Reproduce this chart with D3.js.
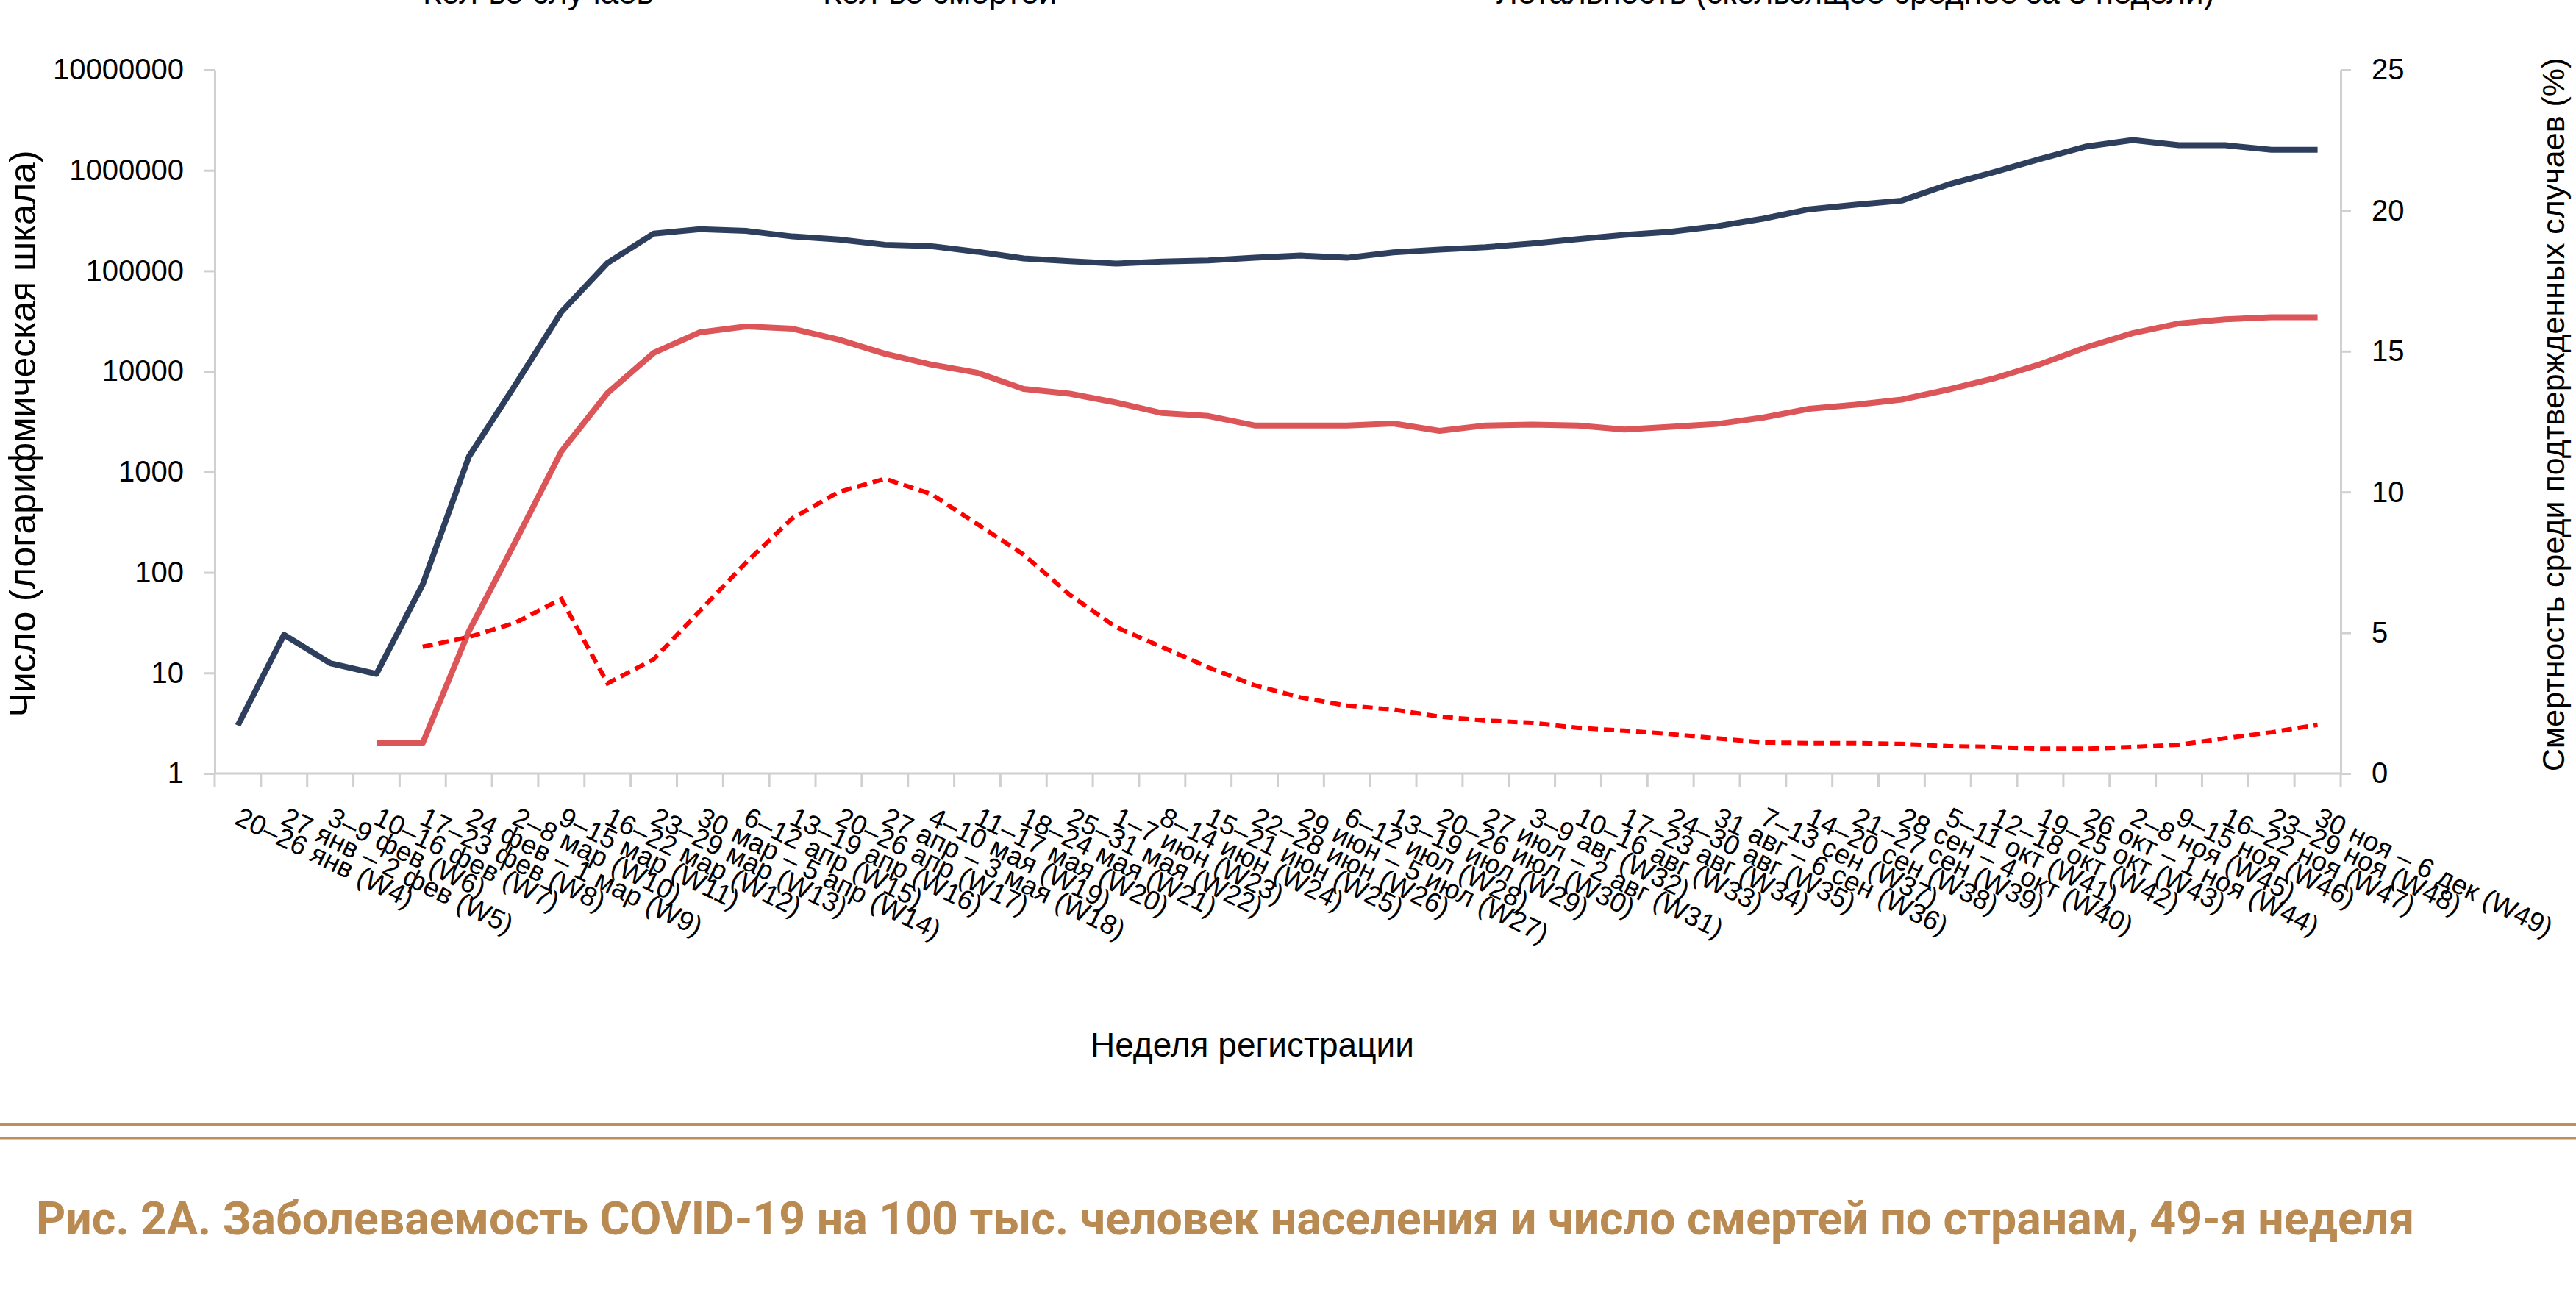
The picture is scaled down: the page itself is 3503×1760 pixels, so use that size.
<!DOCTYPE html>
<html>
<head>
<meta charset="utf-8">
<script src="https://cdn.jsdelivr.net/npm/d3@7"></script>
<style>
body { margin: 0; background: #fff; }
svg text { font-family: "Liberation Sans", Arial, sans-serif; fill: #000; }
</style>
</head>
<body>
<svg width="3503" height="1760"></svg>
<script>
// weeks on the x axis
var weeks = ["W4","W5","W6","W7","W8","W9","W10","W11","W12","W13","W14","W15","W16","W17","W18","W19","W20","W21","W22","W23","W24","W25","W26","W27","W28","W29","W30","W31","W32","W33","W34","W35","W36","W37","W38","W39","W40","W41","W42","W43","W44","W45","W46","W47","W48","W49"];

var weekLabels = ["20–26 янв (W4)","27 янв – 2 фев (W5)","3–9 фев (W6)","10–16 фев (W7)","17–23 фев (W8)","24 фев – 1 мар (W9)","2–8 мар (W10)","9–15 мар (W11)","16–22 мар (W12)","23–29 мар (W13)","30 мар – 5 апр (W14)","6–12 апр (W15)","13–19 апр (W16)","20–26 апр (W17)","27 апр – 3 мая (W18)","4–10 мая (W19)","11–17 мая (W20)","18–24 мая (W21)","25–31 мая (W22)","1–7 июн (W23)","8–14 июн (W24)","15–21 июн (W25)","22–28 июн (W26)","29 июн – 5 июл (W27)","6–12 июл (W28)","13–19 июл (W29)","20–26 июл (W30)","27 июл – 2 авг (W31)","3–9 авг (W32)","10–16 авг (W33)","17–23 авг (W34)","24–30 авг (W35)","31 авг – 6 сен (W36)","7–13 сен (W37)","14–20 сен (W38)","21–27 сен (W39)","28 сен – 4 окт (W40)","5–11 окт (W41)","12–18 окт (W42)","19–25 окт (W43)","26 окт – 1 ноя (W44)","2–8 ноя (W45)","9–15 ноя (W46)","16–22 ноя (W47)","23–29 ноя (W48)","30 ноя – 6 дек (W49)"];

// left axis (log)
var cases = [3, 24, 12.5, 9.8, 76, 1420, 7300, 39000, 120000, 235000, 260000, 250000, 220000, 205000, 182000, 176000, 155000, 133000, 125000, 118000, 124000, 127000, 135000, 142000, 135000, 153000, 163000, 172000, 187000, 207000, 228000, 245000, 278000, 330000, 410000, 455000, 500000, 720000, 960000, 1300000, 1730000, 2000000, 1780000, 1780000, 1600000, 1600000];

var deaths = [null, null, null, 2, 2, 26, 200, 1600, 6100, 15300, 24500, 28000, 26600, 20700, 15000, 11700, 9700, 6700, 6000, 4900, 3850, 3600, 2900, 2900, 2900, 3030, 2560, 2900, 2960, 2900, 2640, 2810, 3000, 3470, 4250, 4660, 5240, 6580, 8520, 11800, 17400, 24000, 30000, 33000, 34600, 34600];

// right axis (%)
var fatality = [null, null, null, null, 4.5, 4.85, 5.35, 6.2, 3.2, 4.06, 5.78, 7.5, 9.07, 10.0, 10.47, 9.93, 8.86, 7.78, 6.35, 5.2, 4.49, 3.77, 3.13, 2.7, 2.41, 2.27, 2.02, 1.88, 1.8, 1.62, 1.52, 1.4, 1.25, 1.1, 1.08, 1.08, 1.05, 0.97, 0.94, 0.88, 0.88, 0.94, 1.02, 1.25, 1.46, 1.73];

var leftTicks = [1, 10, 100, 1000, 10000, 100000, 1000000, 10000000];
var rightTicks = [0, 5, 10, 15, 20, 25];

var legendNames = ["Кол-во случаев", "Кол-во смертей", "Летальность (скользящее среднее за 3 недели)"];
var legendColors = ["#2e3f5e", "#dc5558", "#ff0000"];

var titleText = "Рис. 2А. Заболеваемость COVID-19 на 100 тыс. человек населения и число смертей по странам, 49-я неделя";

var svg = d3.select("svg"),
    width = +svg.attr("width"),
    height = +svg.attr("height");

//plot box (note: "top" is taken by window.top)
var plotLeft = 292, plotRight = 3183, plotTop = 95, plotBottom = 1052;
var gridColor = "#d0d0d0";

var x = d3.scaleBand().domain(weeks).range([plotLeft, plotRight]);
var yL = d3.scaleLog().domain([1, 10000000]).range([plotBottom, plotTop]);
var yR = d3.scaleLinear().domain([0, 25]).range([plotBottom, plotTop]);

function cx(i) { return x(weeks[i]) + x.bandwidth() / 2; }

//left axis
var axL = svg.append("g")
    .attr("transform", "translate(" + plotLeft + ",0)")
    .call(d3.axisLeft(yL).tickValues(leftTicks).tickFormat(d3.format("d")).tickSize(14).tickSizeOuter(0).tickPadding(28));

//right axis
var axR = svg.append("g")
    .attr("transform", "translate(" + plotRight + ",0)")
    .call(d3.axisRight(yR).tickValues(rightTicks).tickSize(14).tickSizeOuter(0).tickPadding(28));

[axL, axR].forEach(function(ax) {
    ax.select(".domain").attr("stroke", gridColor).attr("stroke-width", 3);
    ax.selectAll(".tick line").attr("stroke", gridColor).attr("stroke-width", 3);
    ax.selectAll(".tick text").attr("font-size", 40).attr("font-family", "Liberation Sans, Arial, sans-serif").attr("fill", "#000");
});

//x axis line + ticks at band edges
svg.append("line")
    .attr("x1", plotLeft).attr("x2", plotRight)
    .attr("y1", plotBottom).attr("y2", plotBottom)
    .attr("stroke", gridColor).attr("stroke-width", 3);

var edges = weeks.map(function(w) { return x(w); }).concat([plotRight]);
svg.append("g").selectAll("line")
    .data(edges)
    .enter().append("line")
    .attr("x1", function(d) { return d; }).attr("x2", function(d) { return d; })
    .attr("y1", plotBottom).attr("y2", plotBottom + 18)
    .attr("stroke", gridColor).attr("stroke-width", 3);

//x labels, rotated
svg.append("g").selectAll("text")
    .data(weekLabels)
    .enter().append("text")
    .attr("transform", function(d, i) { return "translate(" + (cx(i) - 6) + "," + (plotBottom + 68) + ") rotate(26)"; })
    .attr("font-size", 37)
    .text(function(d) { return d; });

//lines
var lineL = d3.line()
    .defined(function(d) { return d != null; })
    .x(function(d, i) { return cx(i); })
    .y(function(d) { return yL(d); });

var lineR = d3.line()
    .defined(function(d) { return d != null; })
    .x(function(d, i) { return cx(i); })
    .y(function(d) { return yR(d); });

svg.append("path").datum(cases)
    .attr("d", lineL)
    .attr("fill", "none").attr("stroke", legendColors[0]).attr("stroke-width", 8)
    .attr("stroke-linejoin", "round");

svg.append("path").datum(deaths)
    .attr("d", lineL)
    .attr("fill", "none").attr("stroke", legendColors[1]).attr("stroke-width", 8)
    .attr("stroke-linejoin", "round");

svg.append("path").datum(fatality)
    .attr("d", lineR)
    .attr("fill", "none").attr("stroke", legendColors[2]).attr("stroke-width", 6)
    .attr("stroke-dasharray", "14,8");

//axis titles
svg.append("text")
    .attr("transform", "translate(48,590) rotate(-90)")
    .attr("text-anchor", "middle")
    .attr("font-size", 50)
    .text("Число (логарифмическая шкала)");

svg.append("text")
    .attr("transform", "translate(3487,564) rotate(-90)")
    .attr("text-anchor", "middle")
    .attr("font-size", 43)
    .text("Смертность среди подтвержденных случаев (%)");

svg.append("text")
    .attr("x", 1703).attr("y", 1437)
    .attr("text-anchor", "middle")
    .attr("font-size", 46)
    .text("Неделя регистрации");

//legend, mostly cut off by the top edge
var legendX = [575, 1119, 2035];
var lg = svg.append("g").selectAll("g")
    .data(legendNames)
    .enter().append("g");
lg.append("line")
    .attr("x1", function(d, i) { return legendX[i] - 90; })
    .attr("x2", function(d, i) { return legendX[i] - 20; })
    .attr("y1", -12).attr("y2", -12)
    .attr("stroke", function(d, i) { return legendColors[i]; })
    .attr("stroke-width", function(d, i) { return i == 2 ? 6 : 8; })
    .attr("stroke-dasharray", function(d, i) { return i == 2 ? "14,8" : null; });
lg.append("text")
    .attr("x", function(d, i) { return legendX[i]; })
    .attr("y", 5)
    .attr("font-size", 44)
    .text(function(d) { return d; });

//rules and caption
svg.append("rect").attr("x", 0).attr("y", 1527).attr("width", width).attr("height", 5).attr("fill", "#bf8f58");
svg.append("rect").attr("x", 0).attr("y", 1547).attr("width", width).attr("height", 2.5).attr("fill", "#bf8f58");

svg.append("text")
    .attr("x", 49).attr("y", 1679)
    .style("font-family", "Roboto, sans-serif")
    .attr("font-weight", "bold")
    .attr("font-size", 62.6)
    .style("fill", "#b98a52")
    .text(titleText);
</script>
</body>
</html>
